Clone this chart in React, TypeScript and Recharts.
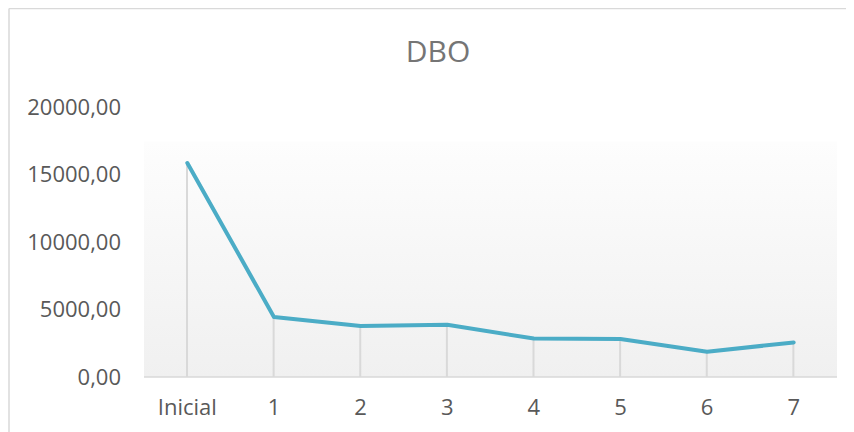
import React from "react";
import { ComposedChart, Line, Bar, XAxis, YAxis, CartesianGrid, Customized } from "recharts";

const categories = ["Inicial", "1", "2", "3", "4", "5", "6", "7"];
const dboValues = [15850, 4450, 3780, 3870, 2850, 2810, 1870, 2560];
const yTicks = [0, 5000, 10000, 15000, 20000];

const data = categories.map((c, i) => ({ name: c, dbo: dboValues[i] }));

const FONT = "'Open Sans', 'Noto Sans', sans-serif";
const fmt = (v: number) => v.toFixed(2).replace(".", ",");

const Frame = () => (
  <g>
    <line x1={1} y1={0.5} x2={846} y2={0.5} stroke="#d9d9d9" strokeWidth={1.5} />
    <line x1={1} y1={0.5} x2={1} y2={424} stroke="#d9d9d9" strokeWidth={1.5} />
    <text x={430} y={54} textAnchor="middle" fontSize={30} fill="#757575" fontFamily={FONT}>
      DBO
    </text>
  </g>
);

export default function App() {
  return (
    <ComposedChart
      width={846}
      height={424}
      data={data}
      margin={{ top: 99, right: 17, bottom: 0, left: 0 }}
      style={{ fontFamily: FONT }}
    >
      <defs>
        <linearGradient id="plotBg" x1="0" y1="0" x2="0" y2="1">
          <stop offset="0%" stopColor="#ffffff" />
          <stop offset="12.5%" stopColor="#ffffff" />
          <stop offset="13%" stopColor="#fdfdfd" />
          <stop offset="100%" stopColor="#f0f0f0" />
        </linearGradient>
      </defs>
      <CartesianGrid horizontal={false} vertical={false} fill="url(#plotBg)" stroke="none" />
      <Customized component={Frame} />
      <XAxis
        dataKey="name"
        height={55}
        tickLine={false}
        tickSize={0}
        tickMargin={22}
        axisLine={{ stroke: "#d9d9d9", strokeWidth: 1.5 }}
        tick={{ fill: "#595959", fontSize: 22, fontFamily: FONT }}
        interval={0}
      />
      <YAxis
        width={136}
        domain={[0, 20000]}
        ticks={yTicks}
        tickFormatter={fmt}
        axisLine={false}
        tickLine={false}
        tickSize={0}
        tickMargin={23}
        tick={{ fill: "#595959", fontSize: 22, fontFamily: FONT }}
      />
      <Bar dataKey="dbo" barSize={2} fill="#d9d9d9" isAnimationActive={false} />
      <Line
        type="linear"
        dataKey="dbo"
        stroke="#4bacc6"
        strokeWidth={4}
        strokeLinecap="round"
        strokeLinejoin="round"
        dot={false}
        activeDot={false}
        isAnimationActive={false}
      />
    </ComposedChart>
  );
}
